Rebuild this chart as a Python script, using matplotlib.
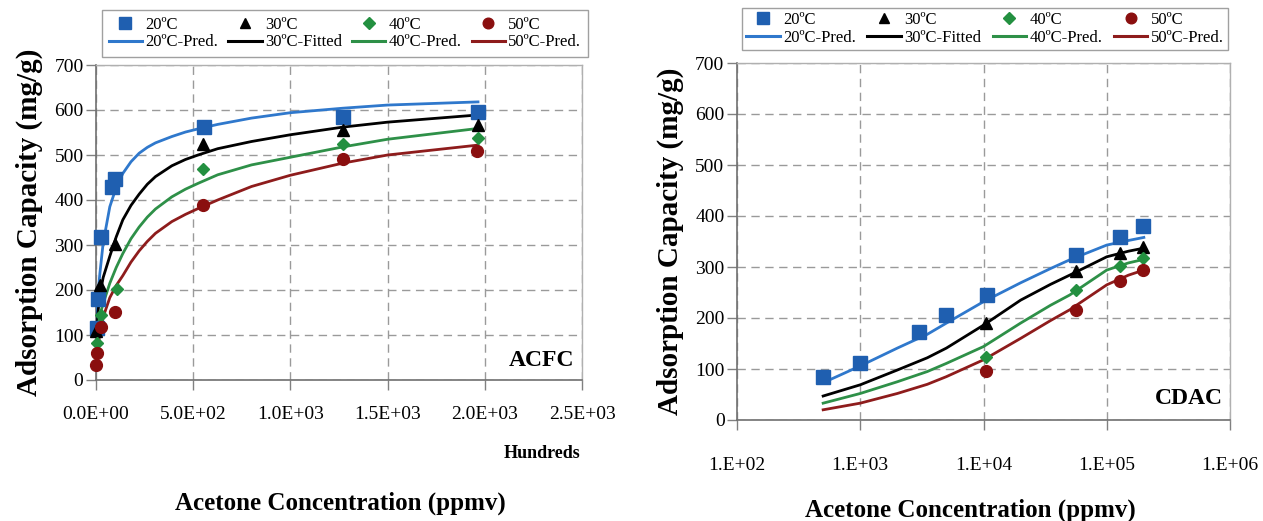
import matplotlib
matplotlib.use("Agg")
import matplotlib.pyplot as plt
from matplotlib.lines import Line2D

plt.rcParams['font.family'] = ['Liberation Serif', 'DejaVu Serif']

series = ['20ºC', '30ºC', '40ºC', '50ºC']
line_labels = ['20ºC-Pred.', '30ºC-Fitted', '40ºC-Pred.', '50ºC-Pred.']

# ---- ACFC (x in hundreds of ppmv) ----
acfc_x = {
    '20ºC': [3, 8, 25, 80, 100, 555, 1270, 1965],
    '30ºC': [2, 22, 100, 550, 1270, 1965],
    '40ºC': [6, 24, 107, 550, 1270, 1965],
    '50ºC': [0.5, 3, 24, 98, 550, 1270, 1960],
}
acfc_y = {
    '20ºC': [115, 180, 318, 428, 447, 562, 584, 596],
    '30ºC': [108, 211, 302, 525, 556, 567],
    '40ºC': [82, 144, 203, 469, 524, 538],
    '50ºC': [34, 60, 118, 152, 390, 491, 508],
}
acfc_curve_x = [3, 10, 20, 37, 71, 104, 138, 180, 222, 264, 306, 390, 460, 525, 626,
                800, 1000, 1270, 1500, 1965]
acfc_curve_y = {
    '20ºC': [105, 190, 237, 305, 385, 428, 459, 485, 504, 517, 527, 541, 551, 558, 568,
             582, 594, 604, 611, 618],
    '30ºC': [100, 150, 190, 228, 275, 318, 356, 388, 413, 435, 452, 476, 490, 500, 514,
             530, 545, 562, 573, 589],
    '40ºC': [75, 115, 145, 170, 215, 250, 281, 314, 340, 362, 380, 407, 424, 437, 456,
             478, 495, 518, 535, 559],
    '50ºC': [45, 70, 105, 140, 183, 210, 232, 262, 287, 308, 326, 352, 368, 381, 400,
             430, 455, 482, 500, 522],
}

# ---- CDAC (x in ppmv) ----
cdac_x = {
    '20ºC': [500, 1000, 3000, 5000, 10600, 56000, 127000, 197000],
    '30ºC': [10500, 56000, 127000, 197000],
    '40ºC': [10500, 56000, 127000, 197000],
    '50ºC': [10500, 56000, 127000, 197000],
}
cdac_y = {
    '20ºC': [84, 112, 173, 206, 245, 324, 358, 380],
    '30ºC': [190, 292, 327, 339],
    '40ºC': [124, 255, 301, 318],
    '50ºC': [97, 216, 273, 294],
}
cdac_curve_x = [500, 1000, 2000, 3500, 5000, 10000, 20000, 35000, 50000, 100000, 150000, 200000]
cdac_curve_y = {
    '20ºC': [73, 106, 141, 168, 190, 232, 269, 297, 314, 343, 352, 358],
    '30ºC': [47, 69, 98, 122, 141, 186, 235, 266, 284, 320, 331, 337],
    '40ºC': [33, 52, 75, 95, 111, 144, 190, 225, 245, 294, 308, 315],
    '50ºC': [20, 33, 52, 70, 85, 118, 160, 195, 216, 265, 284, 294],
}

acfc_xticks = [0, 500, 1000, 1500, 2000, 2500]
acfc_xticklabels = ['0.0E+00', '5.0E+02', '1.0E+03', '1.5E+03', '2.0E+03', '2.5E+03']
cdac_xticks = [1e2, 1e3, 1e4, 1e5, 1e6]
cdac_xticklabels = ['1.E+02', '1.E+03', '1.E+04', '1.E+05', '1.E+06']
yticks = [0, 100, 200, 300, 400, 500, 600, 700]

marker_colors = ['#1f5fb0', 'black', '#239040', '#8a0f0f']
line_colors = ['#2f78cc', 'black', '#2e9048', '#8e1c1c']
markers = ['s', '^', 'D', 'o']
msizes = [10, 8.5, 6.5, 8.5]

W, H = 1263, 521
fig = plt.figure(figsize=(W / 100, H / 100), dpi=100)
ax1 = fig.add_axes([96 / W, 1 - 380 / H, (582 - 96) / W, (380 - 65) / H])
ax2 = fig.add_axes([737 / W, 1 - 420 / H, (1230 - 737) / W, (420 - 63) / H])


def style_axes(ax):
    ax.set_ylim(0, 700)
    ax.set_yticks(yticks)
    ax.grid(True, color='#9a9a9a', linestyle=(0, (6, 4)), linewidth=1.0)
    ax.set_axisbelow(True)
    for s in ['top', 'right']:
        ax.spines[s].set_color('#b0b0b0')
        ax.spines[s].set_linewidth(1.0)
    for s in ['left', 'bottom']:
        ax.spines[s].set_color('#707070')
        ax.spines[s].set_linewidth(1.2)
    ax.tick_params(axis='y', direction='out', length=7, width=1, color='#808080',
                   labelsize=14, pad=2)
    ax.tick_params(axis='x', direction='out', length=7, width=1, color='#808080',
                   labelsize=14)
    ax.set_ylabel('Adsorption Capacity (mg/g)', fontsize=21, fontweight='bold', labelpad=8)


def draw(ax, xs, ys, cx, cys):
    for i, s in enumerate(series):
        ax.plot(cx, cys[s], color=line_colors[i], linewidth=2.0, zorder=3)
    for i, s in enumerate(series):
        ax.plot(xs[s], ys[s], linestyle='none', marker=markers[i], markersize=msizes[i],
                color=marker_colors[i], zorder=4, clip_on=False)


draw(ax1, acfc_x, acfc_y, acfc_curve_x, acfc_curve_y)
style_axes(ax1)
ax1.set_xlim(0, 2500)
ax1.set_xticks(acfc_xticks)
ax1.set_xticklabels(acfc_xticklabels)
ax1.tick_params(axis='x', pad=12)
ax1.text(0.985, 0.03, 'ACFC', transform=ax1.transAxes, ha='right', va='bottom',
         fontsize=17, fontweight='bold')

draw(ax2, cdac_x, cdac_y, cdac_curve_x, cdac_curve_y)
style_axes(ax2)
ax2.set_xscale('log')
ax2.set_xlim(1e2, 1e6)
ax2.set_xticks(cdac_xticks)
ax2.set_xticklabels(cdac_xticklabels)
ax2.minorticks_off()
ax2.tick_params(axis='x', pad=20)
ax2.text(0.985, 0.03, 'CDAC', transform=ax2.transAxes, ha='right', va='bottom',
         fontsize=17, fontweight='bold')

fig.text(580 / W, 1 - 453 / H, 'Hundreds', ha='right', va='center', fontsize=13,
         fontweight='bold')
fig.text(340 / W, 1 - 503 / H, 'Acetone Concentration (ppmv)', ha='center', va='center',
         fontsize=18, fontweight='bold')
fig.text(970 / W, 1 - 510 / H, 'Acetone Concentration (ppmv)', ha='center', va='center',
         fontsize=18, fontweight='bold')

# legends above each panel
for ax, (lx0, lx1, ly0, bpad) in [(ax1, (102, 588, 10, 0.4)), (ax2, (742, 1228, 8, 0.25))]:
    handles, labels = [], []
    for i, s in enumerate(series):
        handles.append(Line2D([], [], linestyle='none', marker=markers[i],
                              markersize=msizes[i] * 0.9, color=marker_colors[i]))
        labels.append(s)
        handles.append(Line2D([], [], color=line_colors[i], linewidth=2.2))
        labels.append(line_labels[i])
    leg = ax.legend(handles, labels, ncol=4, loc='upper left', mode='expand',
                    bbox_to_anchor=(lx0 / W, 1 - ly0 / H, (lx1 - lx0) / W, 0),
                    bbox_transform=fig.transFigure, fontsize=12, frameon=True,
                    fancybox=False, edgecolor='#888888', borderpad=bpad,
                    labelspacing=0.1, handlelength=2.0, handletextpad=0.2,
                    columnspacing=0.5, borderaxespad=0.0)
    leg.get_frame().set_linewidth(1.0)

fig.savefig('out.png', dpi=100)
